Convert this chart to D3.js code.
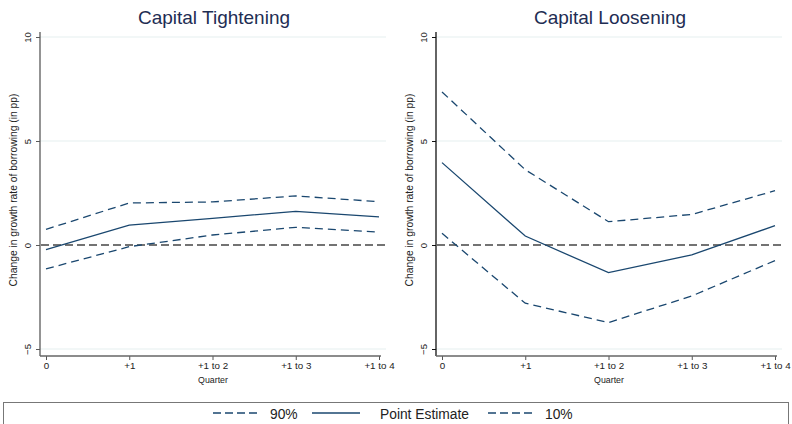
<!DOCTYPE html>
<html>
<head>
<meta charset="utf-8">
<script src="https://cdn.jsdelivr.net/npm/d3@7/dist/d3.min.js"></script>
<style>
  html, body { margin: 0; padding: 0; background: #fff; }
  svg { display: block; font-family: Arial, "Liberation Sans", Helvetica, sans-serif; }
</style>
</head>
<body>
<svg id="chart" width="792" height="424"></svg>
<script>
// Horizon categories shared by both panels
const quarters = ["0", "+1", "+1 to 2", "+1 to 3", "+1 to 4"];
const yTicks = [-5, 0, 5, 10];

// Capital tightening: upper band, point estimate, lower band
const tightHigh = [0.75, 2.02, 2.07, 2.36, 2.08];
const tightPoint = [-0.22, 0.96, 1.28, 1.62, 1.35];
const tightLow = [-1.15, -0.08, 0.48, 0.85, 0.62];

// Capital loosening: upper band, point estimate, lower band
const looseHigh = [7.36, 3.62, 1.12, 1.47, 2.61];
const loosePoint = [3.96, 0.43, -1.33, -0.48, 0.93];
const looseLow = [0.56, -2.80, -3.73, -2.45, -0.75];

const panelTitles = ["Capital Tightening", "Capital Loosening"];
const legendLabels = ["90%", "Point Estimate", "10%"];

const navy = "#1a476f";
const svg = d3.select("#chart");

const panels = [
  { title: panelTitles[0], high: tightHigh, point: tightPoint, low: tightLow, dx: 0, axisColor: "#5a5a5a" },
  { title: panelTitles[1], high: looseHigh, point: loosePoint, low: looseLow, dx: 396, axisColor: "#111" }
];

const y = d3.scaleLinear().domain([-5, 10]).range([349, 37]);

panels.forEach(p => {
  const g = svg.append("g").attr("transform", `translate(${p.dx},0)`);
  const x = d3.scalePoint().domain(quarters).range([46, 379]).padding(0);
  const plotLeft = 40, plotRight = 386, axisTop = 32, axisBottom = 356;

  // title
  g.append("text")
    .attr("x", 214).attr("y", 24)
    .attr("text-anchor", "middle")
    .attr("font-size", 19)
    .attr("fill", "#1e2d53")
    .text(p.title);

  // light horizontal grid
  g.append("g").selectAll("line")
    .data(yTicks.filter(v => v !== 0))
    .join("line")
    .attr("x1", plotLeft).attr("x2", plotRight)
    .attr("y1", d => y(d)).attr("y2", d => y(d))
    .attr("stroke", "#e6eff0").attr("stroke-width", 1.2);

  // y axis
  const yAxis = g.append("g")
    .attr("transform", `translate(${plotLeft},0)`)
    .call(d3.axisLeft(y).tickValues(yTicks).tickSize(4).tickFormat(d3.format("d")));
  yAxis.select(".domain").remove();
  yAxis.selectAll(".tick line").attr("stroke", p.axisColor);
  yAxis.selectAll(".tick text")
    .attr("font-size", 9.5)
    .attr("fill", "#222")
    .attr("x", 0).attr("dy", 0)
    .attr("text-anchor", "middle")
    .attr("transform", "translate(-9,0) rotate(-90)");
  g.append("line")
    .attr("x1", plotLeft).attr("x2", plotLeft)
    .attr("y1", axisTop).attr("y2", axisBottom)
    .attr("stroke", p.axisColor).attr("stroke-width", 1.3);

  // y axis title
  g.append("text")
    .attr("transform", `translate(17,${(axisTop + axisBottom) / 2 - 4}) rotate(-90)`)
    .attr("text-anchor", "middle")
    .attr("font-size", 10.3)
    .attr("fill", "#222")
    .text("Change in growth rate of borrowing (in pp)");

  // x axis
  const xAxis = g.append("g")
    .attr("transform", `translate(0,${axisBottom})`)
    .call(d3.axisBottom(x).tickSize(4));
  xAxis.select(".domain").remove();
  xAxis.selectAll(".tick line").attr("stroke", "#555");
  xAxis.selectAll(".tick text")
    .attr("font-size", 9.8)
    .attr("fill", "#222")
    .attr("y", 12.5).attr("dy", 0);
  g.append("line")
    .attr("x1", plotLeft).attr("x2", 381)
    .attr("y1", axisBottom).attr("y2", axisBottom)
    .attr("stroke", "#666").attr("stroke-width", 1.5);

  g.append("text")
    .attr("x", 213).attr("y", 383)
    .attr("text-anchor", "middle")
    .attr("font-size", 8.8)
    .attr("fill", "#222")
    .text("Quarter");

  // zero reference line
  g.append("line")
    .attr("x1", plotLeft + 1).attr("x2", plotRight)
    .attr("y1", y(0)).attr("y2", y(0))
    .attr("stroke", "#737373").attr("stroke-width", 2)
    .attr("stroke-dasharray", "8,4");

  const line = d3.line().x((d, i) => x(quarters[i])).y(d => y(d));
  const series = [
    { v: p.high, dash: "8,5" },
    { v: p.point, dash: null },
    { v: p.low, dash: "8,5" }
  ];
  series.forEach(s => {
    g.append("path")
      .datum(s.v)
      .attr("d", line)
      .attr("fill", "none")
      .attr("stroke", navy)
      .attr("stroke-width", 1.3)
      .attr("stroke-dasharray", s.dash);
  });
});

// legend
const lg = svg.append("g");
lg.append("rect")
  .attr("x", 3.5).attr("y", 402.5)
  .attr("width", 785).attr("height", 30)
  .attr("fill", "#fff").attr("stroke", "#777").attr("stroke-width", 1);

const legendItems = [
  { label: legendLabels[0], dash: "8,4", x0: 213, x1: 259, tx: 270 },
  { label: legendLabels[1], dash: null, x0: 312, x1: 360, tx: 380 },
  { label: legendLabels[2], dash: "8,4", x0: 488, x1: 534, tx: 545 }
];
legendItems.forEach(it => {
  lg.append("line")
    .attr("x1", it.x0).attr("x2", it.x1)
    .attr("y1", 413).attr("y2", 413)
    .attr("stroke", navy).attr("stroke-width", 1.5)
    .attr("stroke-dasharray", it.dash);
  lg.append("text")
    .attr("x", it.tx).attr("y", 419)
    .attr("font-size", 13.8)
    .attr("fill", "#222")
    .text(it.label);
});
</script>
</body>
</html>
